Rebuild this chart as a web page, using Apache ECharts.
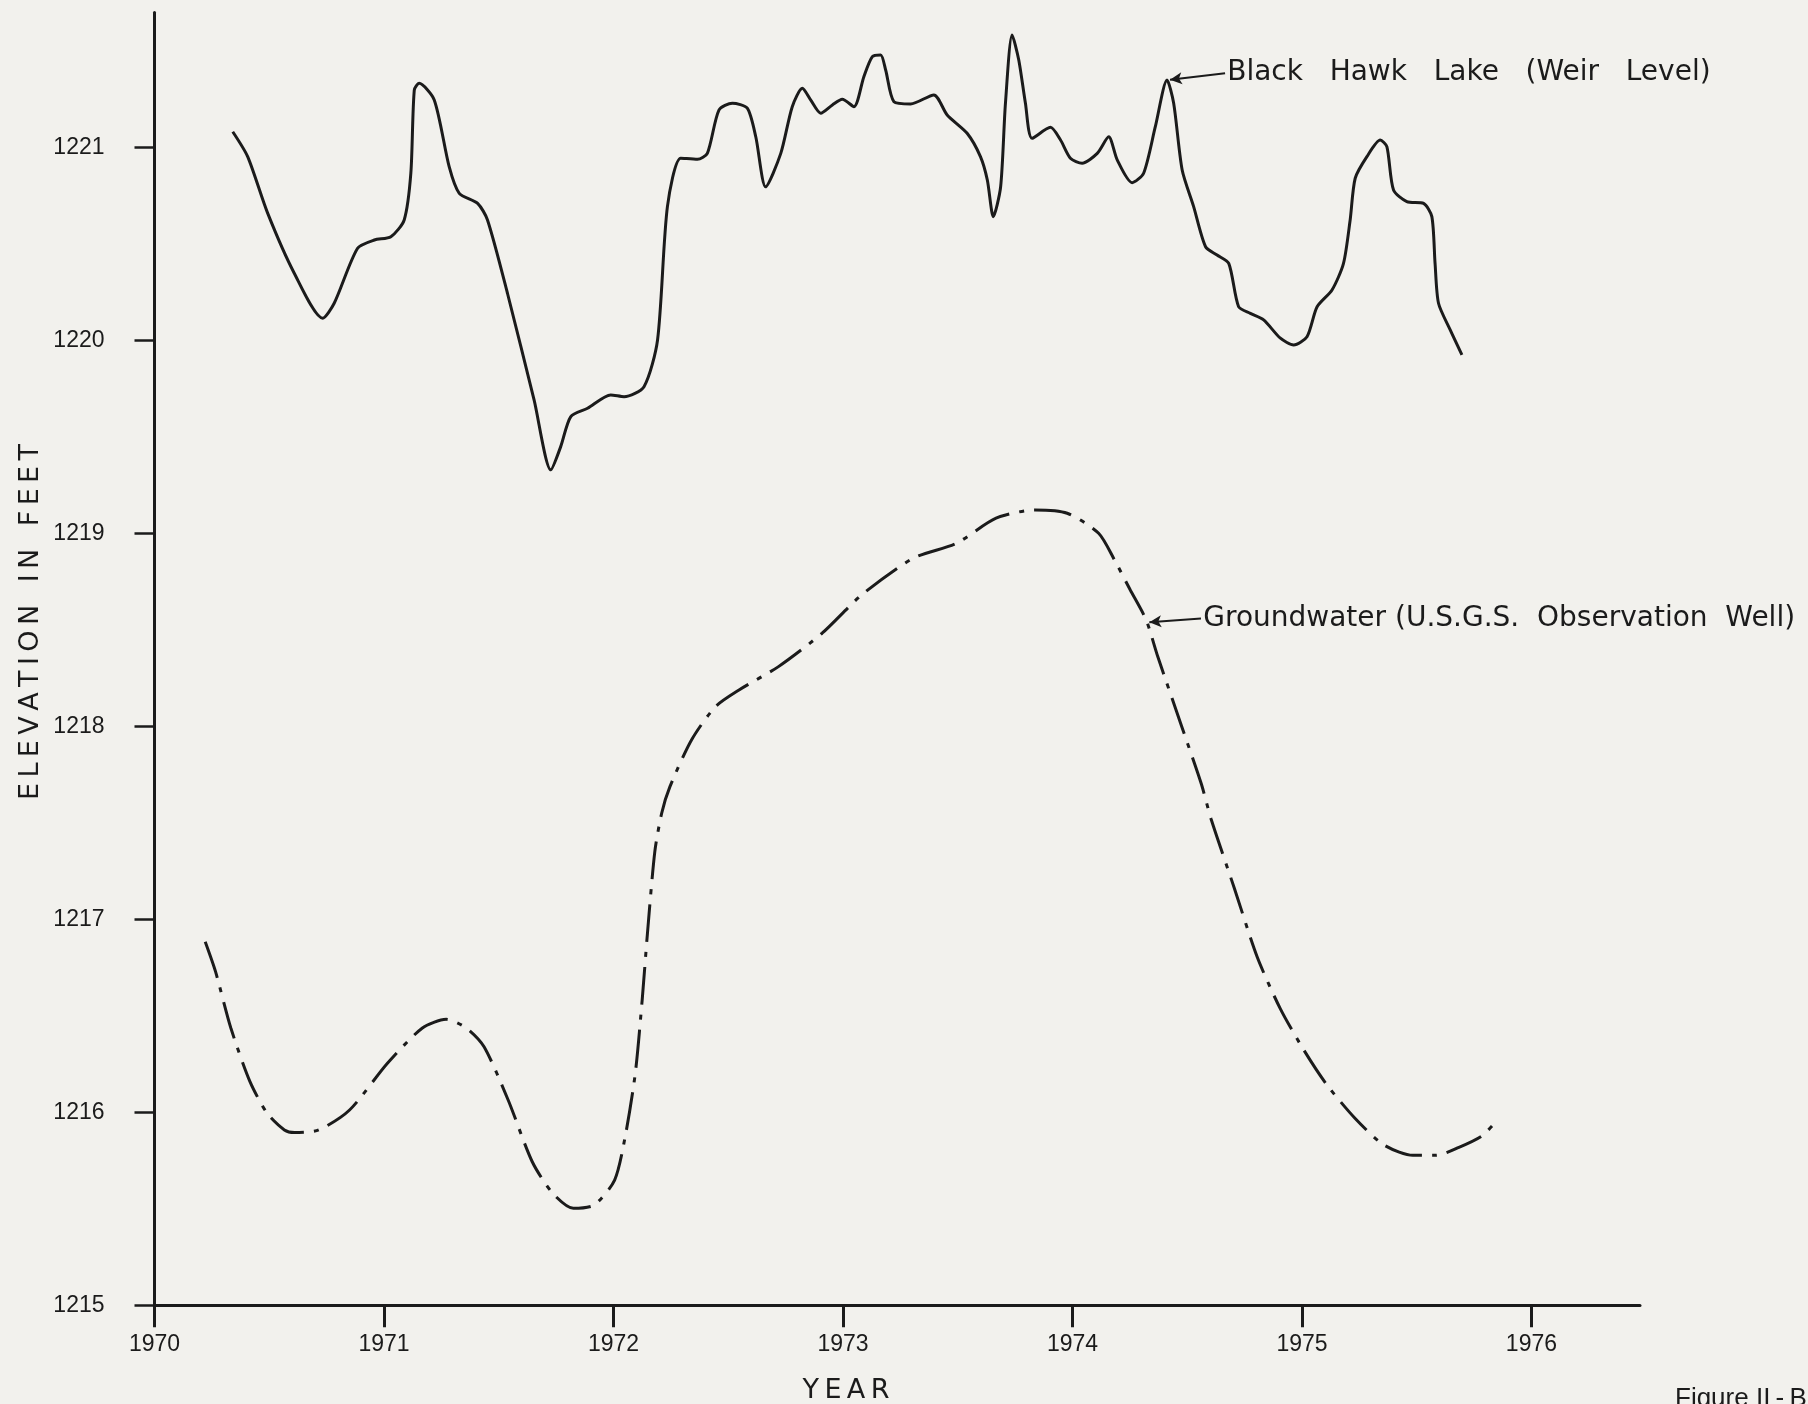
<!DOCTYPE html>
<html>
<head>
<meta charset="utf-8">
<script src="https://cdn.jsdelivr.net/npm/echarts@6/dist/echarts.min.js"></script>
<style>
html,body{margin:0;padding:0;background:#f2f1ed;}
#c{width:1808px;height:1404px;}
</style>
</head>
<body>
<div id="c"></div>
<script>
const yearTicks = [1970, 1971, 1972, 1973, 1974, 1975, 1976];
const elevTicks = [1215, 1216, 1217, 1218, 1219, 1220, 1221];

const lakeYears = [1970.341,1970.406,1970.493,1970.609,1970.733,1970.783,1970.885,1970.958,1971.030,1971.088,1971.117,1971.132,1971.153,1971.219,1971.284,1971.328,1971.408,1971.451,1971.538,1971.654,1971.727,1971.770,1971.814,1971.887,1971.988,1972.046,1972.133,1972.192,1972.235,1972.293,1972.366,1972.409,1972.460,1972.518,1972.583,1972.620,1972.663,1972.729,1972.779,1972.823,1972.859,1972.903,1972.954,1972.997,1973.048,1973.091,1973.128,1973.164,1973.186,1973.222,1973.295,1973.396,1973.454,1973.541,1973.599,1973.629,1973.655,1973.687,1973.708,1973.737,1973.766,1973.795,1973.824,1973.904,1973.948,1973.991,1974.042,1974.108,1974.158,1974.195,1974.260,1974.310,1974.361,1974.412,1974.441,1974.478,1974.528,1974.580,1974.630,1974.681,1974.724,1974.775,1974.833,1974.906,1974.964,1975.022,1975.066,1975.131,1975.181,1975.210,1975.232,1975.283,1975.341,1975.370,1975.399,1975.457,1975.530,1975.566,1975.580,1975.595,1975.646,1975.697];
const lakeLevels = [1221.082,1220.953,1220.660,1220.349,1220.116,1220.193,1220.478,1220.521,1220.538,1220.625,1220.867,1221.298,1221.333,1221.247,1220.901,1220.763,1220.711,1220.625,1220.245,1219.692,1219.330,1219.450,1219.606,1219.649,1219.718,1219.709,1219.761,1220.003,1220.694,1220.945,1220.939,1220.970,1221.195,1221.230,1221.204,1221.056,1220.797,1220.970,1221.212,1221.307,1221.247,1221.178,1221.221,1221.250,1221.212,1221.367,1221.471,1221.480,1221.402,1221.238,1221.226,1221.273,1221.169,1221.074,1220.953,1220.832,1220.642,1220.797,1221.230,1221.584,1221.454,1221.230,1221.048,1221.105,1221.039,1220.945,1220.919,1220.970,1221.056,1220.936,1220.818,1220.867,1221.108,1221.350,1221.230,1220.884,1220.694,1220.486,1220.443,1220.400,1220.175,1220.141,1220.107,1220.012,1219.977,1220.020,1220.175,1220.262,1220.400,1220.625,1220.841,1220.953,1221.039,1221.005,1220.780,1220.720,1220.711,1220.642,1220.400,1220.193,1220.055,1219.926];

const wellYears = [1970.221,1970.266,1970.333,1970.416,1970.491,1970.566,1970.610,1970.716,1970.850,1971.015,1971.166,1971.271,1971.360,1971.436,1971.541,1971.646,1971.735,1971.825,1971.916,1972.005,1972.051,1972.095,1972.125,1972.148,1972.180,1972.210,1972.246,1972.340,1972.444,1972.547,1972.719,1972.909,1973.081,1973.305,1973.494,1973.667,1973.838,1973.977,1974.114,1974.183,1974.252,1974.321,1974.372,1974.476,1974.562,1974.604,1974.705,1974.805,1974.906,1975.006,1975.106,1975.232,1975.357,1975.483,1975.583,1975.684,1975.784,1975.849];
const wellLevels = [1216.884,1216.729,1216.436,1216.159,1215.995,1215.909,1215.895,1215.909,1216.012,1216.254,1216.436,1216.482,1216.436,1216.340,1216.064,1215.744,1215.581,1215.503,1215.520,1215.649,1215.874,1216.202,1216.582,1216.928,1217.350,1217.550,1217.688,1217.930,1218.102,1218.189,1218.310,1218.483,1218.681,1218.871,1218.949,1219.079,1219.122,1219.105,1219.001,1218.863,1218.707,1218.552,1218.361,1218.000,1217.700,1217.520,1217.163,1216.805,1216.536,1216.327,1216.147,1215.968,1215.831,1215.777,1215.777,1215.819,1215.878,1215.956];

const lakeLabel = 'Black   Hawk   Lake   (Weir   Level)';
const wellLabel = 'Groundwater (U.S.G.S.  Observation  Well)';

const INK = '#1b1b1b';
const FONT = "'DejaVu Sans', sans-serif";
const TICKFONT = "'Liberation Sans', sans-serif";
const TS = '\u2009';

const zip = (xs, ys) => xs.map((x, i) => [x, ys[i]]);

const chart = echarts.init(document.getElementById('c'), null, {renderer: 'canvas'});
chart.setOption({
  backgroundColor: '#f2f1ed',
  animation: false,
  grid: {left: 154.5, right: 168, top: 12.5, bottom: 98.7, containLabel: false, outerBoundsMode: 'none'},
  xAxis: {
    type: 'value', min: 1970, max: 1976.473, interval: 1,
    axisLine: {show: true, onZero: false, lineStyle: {color: INK, width: 3}},
    axisTick: {show: true, length: 22, lineStyle: {color: INK, width: 3}, customValues: yearTicks},
    axisLabel: {show: true, margin: 28, color: INK, fontSize: 23, fontFamily: TICKFONT, customValues: yearTicks,
      formatter: v => String(v)},
    splitLine: {show: false}
  },
  yAxis: {
    type: 'value', min: 1215, max: 1221.7, interval: 1,
    axisLine: {show: true, onZero: false, lineStyle: {color: INK, width: 3}},
    axisTick: {show: true, length: 20, lineStyle: {color: INK, width: 2.5}, customValues: elevTicks},
    axisLabel: {show: true, margin: 50, color: INK, fontSize: 23, fontFamily: TICKFONT, customValues: elevTicks,
      formatter: v => String(v)},
    splitLine: {show: false}
  },
  graphic: [
    {type: 'text', x: 31, y: 622, rotation: Math.PI / 2,
      style: {text: ['E','L','E','V','A','T','I','O','N'].join(TS) + '  ' + TS + 'I' + TS + 'N' + '  ' + TS + ['F','E','E','T'].join(TS),
        fill: INK, fontSize: 27, fontFamily: FONT, textAlign: 'center', textVerticalAlign: 'middle'}},
    {type: 'text', x: 846, y: 1391,
      style: {text: ['Y','E','A','R'].join(TS), fill: INK, fontSize: 27, fontFamily: FONT,
        textAlign: 'center', textVerticalAlign: 'middle'}},
    {type: 'text', x: 1675, y: 1386,
      style: {text: 'Figure ' + 'II' + TS + '-' + TS + 'B', fill: INK, fontSize: 26, fontFamily: TICKFONT,
        textAlign: 'left', textVerticalAlign: 'top'}}
  ],
  series: [
    {
      name: 'Black Hawk Lake (Weir Level)', type: 'line', data: zip(lakeYears, lakeLevels),
      smooth: 0.25, showSymbol: false, symbol: 'none',
      lineStyle: {color: INK, width: 3},
      markLine: {silent: true, symbol: ['none', 'arrow'], symbolSize: [9, 12],
        lineStyle: {color: INK, width: 2, type: 'solid'}, label: {show: false},
        data: [[{coord: [1974.665, 1221.385]}, {coord: [1974.425, 1221.352]}]]},
      markPoint: {silent: true, symbol: 'circle', symbolSize: 1, itemStyle: {color: 'rgba(0,0,0,0)'},
        label: {show: true, position: 'right', distance: 0, formatter: lakeLabel, color: INK,
          fontSize: 28, fontFamily: FONT},
        data: [{coord: [1974.672, 1221.387]}]}
    },
    {
      name: 'Groundwater (U.S.G.S. Observation Well)', type: 'line', data: zip(wellYears, wellLevels),
      smooth: 0.25, showSymbol: false, symbol: 'none',
      lineStyle: {color: INK, width: 3, type: [38, 10, 5, 10], cap: 'butt'},
      markLine: {silent: true, symbol: ['none', 'arrow'], symbolSize: [9, 12],
        lineStyle: {color: INK, width: 2, type: 'solid'}, label: {show: false},
        data: [[{coord: [1974.560, 1218.560]}, {coord: [1974.335, 1218.540]}]]},
      markPoint: {silent: true, symbol: 'circle', symbolSize: 1, itemStyle: {color: 'rgba(0,0,0,0)'},
        label: {show: true, position: 'right', distance: 0, formatter: wellLabel, color: INK,
          fontSize: 28, fontFamily: FONT},
        data: [{coord: [1974.568, 1218.560]}]}
    }
  ]
});
</script>
</body>
</html>
